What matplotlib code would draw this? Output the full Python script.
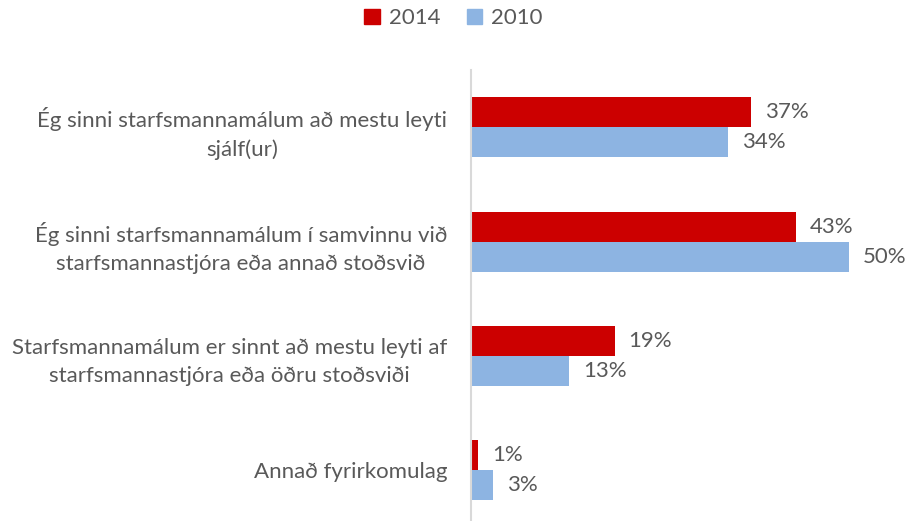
import matplotlib.pyplot as plt
from matplotlib.patches import Patch

CATEGORIES = [
    "Ég sinni starfsmannamálum að mestu leyti\nsjálf(ur)",
    "Ég sinni starfsmannamálum í samvinnu við\nstarfsmannastjóra eða annað stoðsvið",
    "Starfsmannamálum er sinnt að mestu leyti af\nstarfsmannastjóra eða öðru stoðsviði",
    "Annað fyrirkomulag",
]
VALUES_2014 = [37, 43, 19, 1]
VALUES_2010 = [34, 50, 13, 3]

RED = "#CC0000"
BLUE = "#8DB4E2"
TEXT = "#595959"
FS = 16

plt.rcParams["font.family"] = ["Lato", "DejaVu Sans"]

fig = plt.figure(figsize=(9.07, 5.21), dpi=100)
ax = fig.add_axes([0.519, -0.012, 0.459, 0.877])

h = 0.263
y = list(range(len(CATEGORIES)))
bars_a = ax.barh([i - h / 2 for i in y], VALUES_2014, height=h, color=RED)
bars_b = ax.barh([i + h / 2 for i in y], VALUES_2010, height=h, color=BLUE)

for bars in (bars_a, bars_b):
    for b in bars:
        w = b.get_width()
        ax.annotate(f"{w:.0f}%", (w, b.get_y() + b.get_height() / 2),
                    xytext=(10, 0), textcoords="offset points",
                    va="center", ha="left", fontsize=FS, color=TEXT)

ax.set_ylim(3.5, -0.5)
ax.set_xlim(0, 55)
ax.set_yticks(y, CATEGORIES, fontsize=FS, color=TEXT, multialignment="center",
              linespacing=1.5)
ax.tick_params(axis="y", length=0, pad=17)
ax.set_xticks([])
for s in ("top", "right", "bottom"):
    ax.spines[s].set_visible(False)
ax.spines["left"].set_color("#D9D9D9")
ax.spines["left"].set_linewidth(1.5)

handles = [Patch(color=RED, label="2014"), Patch(color=BLUE, label="2010")]
fig.legend(handles=handles, loc="center", bbox_to_anchor=(0.5, 0.965), ncol=2,
           frameon=False, fontsize=FS, labelcolor=TEXT,
           handlelength=0.7, handleheight=0.7, handletextpad=0.4, columnspacing=1.2)

fig.savefig("out.png", dpi=100)
